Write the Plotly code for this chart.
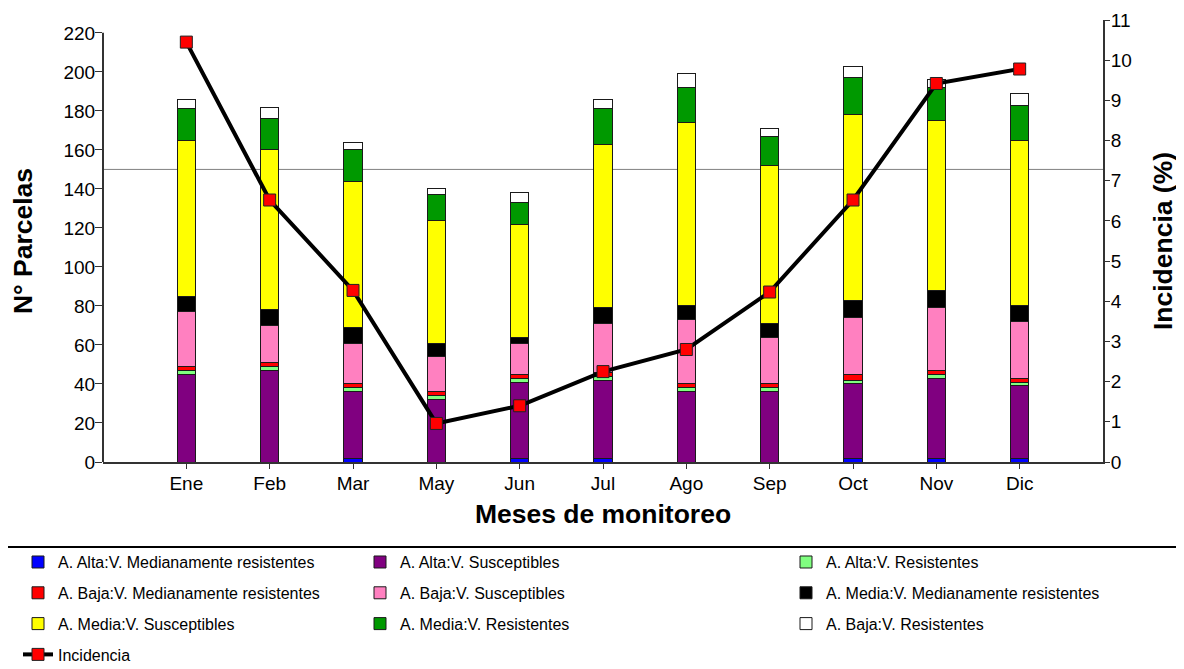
import plotly.graph_objects as go

# Meses de monitoreo
meses = ['Ene', 'Feb', 'Mar', 'May', 'Jun', 'Jul', 'Ago', 'Sep', 'Oct', 'Nov', 'Dic']

# N° de parcelas por categoria (apilado de abajo hacia arriba)
alta_med_res = [0, 0, 2, 0, 2, 2, 0, 0, 2, 2, 2]
alta_susc = [45, 47, 34, 32, 39, 40, 36, 36, 38, 41, 37]
alta_res = [2, 2, 2, 2, 2, 2, 2, 2, 2, 2, 2]
baja_med_res = [2, 2, 2, 2, 2, 2, 2, 2, 3, 2, 2]
baja_susc = [28, 19, 21, 18, 16, 25, 33, 24, 29, 32, 29]
media_med_res = [8, 8, 8, 7, 3, 8, 7, 7, 9, 9, 8]
media_susc = [80, 82, 75, 63, 58, 84, 94, 81, 95, 87, 85]
media_res = [16, 16, 16, 13, 11, 18, 18, 15, 19, 17, 18]
baja_res = [5, 6, 4, 3, 5, 5, 7, 4, 6, 4, 6]

# Incidencia (%)
incidencia = [10.45, 6.52, 4.27, 0.96, 1.40, 2.25, 2.80, 4.23, 6.52, 9.42, 9.78]

left_ticks = list(range(0, 240, 20))
right_ticks = list(range(0, 12))

FONT = 'Liberation Sans, Arial, sans-serif'

series = [
    ('A. Alta:V. Medianamente resistentes', alta_med_res, '#0000FF', 'legend'),
    ('A. Alta:V. Susceptibles', alta_susc, '#800080', 'legend2'),
    ('A. Alta:V. Resistentes', alta_res, '#80FF80', 'legend3'),
    ('A. Baja:V. Medianamente resistentes', baja_med_res, '#FF0000', 'legend'),
    ('A. Baja:V. Susceptibles', baja_susc, '#FF80C0', 'legend2'),
    ('A. Media:V. Medianamente resistentes', media_med_res, '#000000', 'legend3'),
    ('A. Media:V. Susceptibles', media_susc, '#FFFF00', 'legend'),
    ('A. Media:V. Resistentes', media_res, '#009900', 'legend2'),
    ('A. Baja:V. Resistentes', baja_res, '#FFFFFF', 'legend3'),
]

fig = go.Figure()

for i, (name, vals, color, leg) in enumerate(series):
    fig.add_trace(go.Bar(
        x=meses, y=vals, name=name,
        marker=dict(color=color, line=dict(color='#1a1a1a', width=1)),
        width=0.22,
        legend=leg, legendgroup='g%d' % i,
    ))

fig.add_trace(go.Scatter(
    x=meses, y=incidencia, name='Incidencia', yaxis='y2',
    mode='lines+markers',
    line=dict(color='black', width=4),
    marker=dict(symbol='square', size=12, color='#FF0000',
                line=dict(color='#222222', width=1)),
    legend='legend', legendgroup='inc',
))

leg_common = dict(
    font=dict(family=FONT, size=16, color='black'),
    bgcolor='rgba(0,0,0,0)', borderwidth=0,
    orientation='v', traceorder='grouped', tracegroupgap=7,
    xanchor='left', yanchor='top', y=-0.188,
)

# la pagina tiene 8 px de margen en el body: figura de 1176x661
fig.update_layout(
    width=1176, height=661,
    margin=dict(l=95, r=81, t=12, b=207, autoexpand=False),
    paper_bgcolor='white', plot_bgcolor='white',
    font=dict(family=FONT, size=19, color='black'),
    barmode='stack',
    legend=dict(x=-0.085, **leg_common),
    legend2=dict(x=0.257, **leg_common),
    legend3=dict(x=0.683, **leg_common),
    xaxis=dict(
        type='category', range=[-1, 11], automargin=False,
        showline=True, linecolor='#333333', linewidth=2,
        ticks='outside', ticklen=5, tickcolor='#333333',
        ticklabelstandoff=-2,
        showgrid=False, zeroline=False,
        tickfont=dict(size=19),
        title=dict(text='Meses de monitoreo', standoff=12,
                   font=dict(size=26.5, weight='bold')),
    ),
    yaxis=dict(
        range=[0, 226.6], tickvals=left_ticks, automargin=False,
        showline=False, ticks='outside', ticklen=7, tickcolor='#333333',
        ticklabelstandoff=-4,
        showgrid=False, zeroline=False,
        tickfont=dict(size=19),
        title=dict(text='N° Parcelas', standoff=24,
                   font=dict(size=26.5, weight='bold')),
    ),
    yaxis2=dict(
        overlaying='y', side='right', range=[0, 11], tickvals=right_ticks,
        automargin=False,
        showline=True, linecolor='#333333', linewidth=2,
        ticks='outside', ticklen=5, tickcolor='#333333',
        ticklabelstandoff=-3,
        showgrid=False, zeroline=False,
        tickfont=dict(size=19),
        title=dict(text='Incidencia (%)', standoff=23,
                   font=dict(size=26.5, weight='bold')),
    ),
    shapes=[
        # linea de referencia en 150 parcelas
        dict(type='line', xref='paper', yref='y', x0=0, x1=1, y0=150, y1=150,
             line=dict(color='#808080', width=1), layer='below'),
        # eje izquierdo (solo hasta 220)
        dict(type='line', xref='paper', yref='y', x0=0, x1=0, y0=0, y1=220,
             line=dict(color='#333333', width=2)),
        # recuadro de la leyenda
        dict(type='rect', xref='paper', yref='paper', x0=-0.1, x1=1.2,
             y0=-0.1923, y1=-0.7, line=dict(color='black', width=2)),
    ],
)

fig.write_html('out.html')
